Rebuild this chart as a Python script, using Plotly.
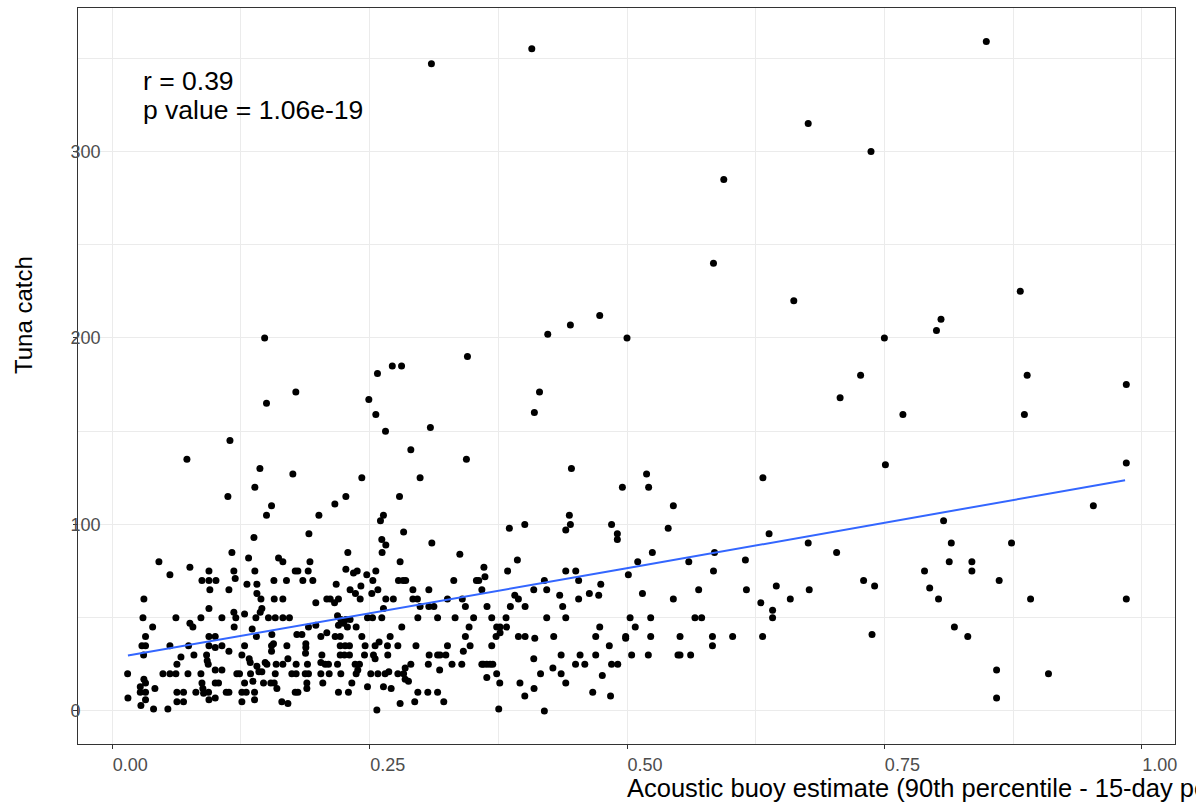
import plotly.graph_objects as go

# ---- data ----
acoustic = [
    0.849, 0.676, 0.737, 0.882, 0.662, 0.310, 0.4075, 0.594, 0.584,
    0.4735, 0.445, 0.423, 0.500, 0.345, 0.281, 0.272, 0.415, 0.410, 0.309, 0.290, 0.344, 0.299, 0.279,
    0.446, 0.4955, 0.519, 0.521, 0.545, 0.632, 0.638, 0.540, 0.485, 0.4906, 0.4906, 0.444, 0.445, 0.4405,
    0.4007, 0.3857, 0.283, 0.3104, 0.3376, 0.2796, 0.361, 0.362, 0.3935, 0.384, 0.3537, 0.356, 0.3317,
    0.2825, 0.285, 0.292, 0.3075, 0.359, 0.4405, 0.4502, 0.4197, 0.453, 0.4745, 0.5013, 0.5104, 0.5246,
    0.560, 0.585, 0.584, 0.615, 0.616, 0.645, 0.6586, 0.5696, 0.515, 0.545, 0.4094, 0.422, 0.4346, 0.4634,
    0.4725, 0.391, 0.3945, 0.453, 0.3256, 0.340, 0.292, 0.2964,
    0.805, 0.8006, 0.750, 0.7269, 0.707, 0.768, 0.8887, 0.886, 0.985, 0.751, 0.985, 0.953, 0.8075, 0.676,
    0.7036, 0.815, 0.8735, 0.813, 0.835, 0.835, 0.789, 0.8615, 0.7298, 0.7405, 0.794, 0.677, 0.8026, 0.892,
    0.985,
    0.738, 0.818, 0.831, 0.859, 0.859, 0.9094,
    0.630, 0.6414, 0.6414, 0.6317, 0.566, 0.5725, 0.583, 0.583, 0.6026, 0.5515, 0.5495, 0.5515, 0.5618,
    0.523, 0.523, 0.5207, 0.503, 0.508, 0.4987, 0.4987, 0.5045, 0.4828, 0.485, 0.491, 0.476, 0.484, 0.4667,
    0.4696, 0.4735, 0.4696, 0.4544, 0.450, 0.459, 0.436, 0.4288, 0.428, 0.436, 0.4405, 0.4375, 0.4405,
    0.422, 0.4094, 0.4104, 0.416, 0.4197, 0.4097, 0.4007, 0.396, 0.3754, 0.3764, 0.3734, 0.401, 0.3867,
    0.3825, 0.3734, 0.3767, 0.383, 0.3728, 0.3767, 0.3945, 0.401, 0.3686, 0.359, 0.3605, 0.3638, 0.367,
    0.3696, 0.3638, 0.3476, 0.341, 0.3395, 0.330, 0.318, 0.3256, 0.343, 0.3466, 0.351, 0.333, 0.316, 0.2968,
    0.3686, 0.299, 0.3075, 0.3124, 0.343, 0.364, 0.2812, 0.295, 0.3078, 0.316, 0.3184, 0.324, 0.307, 0.290,
    0.2845, 0.283, 0.2845, 0.2877, 0.2968, 0.3065, 0.316, 0.2938, 0.322, 0.2796,
    0.148, 0.2576, 0.1783, 0.2492, 0.1498, 0.256, 0.2654, 0.1143, 0.0725, 0.1434, 0.1754, 0.2424, 0.1385,
    0.1123, 0.2269, 0.2162, 0.1547, 0.1498, 0.2007, 0.2634, 0.2605, 0.1376, 0.191, 0.2618, 0.2657, 0.2621,
    0.1162, 0.2288, 0.0453, 0.1324, 0.1615, 0.1657, 0.192, 0.0754, 0.056, 0.0939, 0.0939, 0.1007, 0.0871,
    0.0948, 0.1181, 0.1194, 0.1133, 0.1308, 0.1385, 0.1405, 0.1405, 0.157, 0.1692, 0.1777, 0.1803, 0.1851,
    0.1948, 0.1903, 0.2175, 0.2269, 0.2343, 0.2379, 0.231, 0.2362, 0.2415, 0.2472, 0.2531, 0.256, 0.258,
    0.2521, 0.278, 0.2657, 0.273, 0.0307, 0.1444, 0.1573, 0.1657, 0.2084, 0.2117, 0.2197, 0.2408,
    0.0939, 0.0298, 0.0618, 0.0861, 0.1065, 0.1181, 0.120, 0.1285, 0.1395, 0.0754, 0.0783, 0.0392, 0.0323,
    0.1184, 0.1359, 0.0288, 0.0323, 0.0304, 0.056, 0.0741, 0.0939, 0.0939, 0.100, 0.100, 0.1065, 0.1133,
    0.1285, 0.0667, 0.0628, 0.0793, 0.0916, 0.0922, 0.0932, 0.1259, 0.133, 0.134, 0.1405, 0.0149, 0.0492,
    0.056, 0.0618, 0.0735, 0.0861, 0.100, 0.1065, 0.121, 0.1236, 0.1343, 0.0307, 0.0323, 0.0272, 0.0414,
    0.0272, 0.0323, 0.0323, 0.0278, 0.0152, 0.0401, 0.054, 0.0628, 0.0692, 0.0628, 0.0692, 0.0812, 0.0871,
    0.088, 0.0887, 0.0935, 0.0939, 0.100, 0.1032, 0.100, 0.1107, 0.1133, 0.1285, 0.1259, 0.1301, 0.1259,
    0.1366, 0.1382, 0.1382, 0.140,
    0.1977, 0.2159, 0.1453, 0.1437, 0.1517, 0.1583, 0.1657, 0.1721, 0.2188, 0.222, 0.2269, 0.231, 0.2479,
    0.2528, 0.2618, 0.2634, 0.1906, 0.1977, 0.2197, 0.2246, 0.2284, 0.2369, 0.155, 0.1566, 0.1547, 0.1547,
    0.1793, 0.1842, 0.2026, 0.2084, 0.2165, 0.2214, 0.2424, 0.2456, 0.2553, 0.2592, 0.2699, 0.2673, 0.2774,
    0.1696, 0.188, 0.188, 0.2214, 0.2262, 0.2304, 0.2036, 0.2214, 0.2255, 0.2304, 0.245, 0.2537, 0.2553,
    0.2676, 0.1706, 0.1877, 0.1485, 0.1502, 0.1592, 0.1657, 0.1786, 0.1896, 0.2026, 0.2068, 0.210, 0.2188,
    0.2359, 0.2401, 0.1424, 0.1453, 0.1583, 0.1744, 0.1786, 0.1874, 0.1906, 0.2026, 0.2107, 0.222, 0.2369,
    0.2385, 0.2511, 0.258, 0.265, 0.2686, 0.2774, 0.1469, 0.154, 0.1573, 0.1599, 0.1777, 0.1803, 0.189,
    0.189, 0.2045, 0.2197, 0.2294, 0.2327, 0.2479, 0.2634, 0.2709, 0.257, 0.1647, 0.1706,
]

catch = [
    359, 315, 300, 225, 220, 347, 355, 285, 240,
    212, 207, 202, 200, 190, 185, 185, 171, 160, 152, 140, 135, 125, 115,
    130, 120, 127, 120, 110, 125, 95, 98, 100, 95, 92, 105, 100, 97,
    100, 98, 96, 90, 84, 80, 77, 72, 81, 75, 70, 70, 70,
    70, 70, 65, 65, 65, 75, 75, 70, 70, 68, 73, 80, 85,
    80, 85, 75, 81, 65, 67, 60, 65, 63, 60, 65, 65, 62, 63,
    62, 62, 60, 60, 60, 60, 60, 60,
    210, 204, 200, 180, 168, 159, 180, 159, 175, 132, 133, 110, 102, 90,
    85, 90, 90, 80, 80, 75, 75, 70, 70, 67, 66, 65, 60, 60,
    60,
    41, 45, 40, 22, 7, 20,
    58, 54, 50, 40, 50, 50, 40, 35, 40, 40, 30, 30, 30,
    50, 40, 30, 50, 45, 40, 39, 30, 35, 25, 25, 19, 8, 10,
    40, 45, 30, 30, 25, 25, 30, 40, 23, 20, 15, 56, 50,
    50, 28, 39, 20, 0, 12, 8, 15, 1, 15, 20, 56, 56,
    50, 45, 45, 45, 40, 42, 40, 40, 35, 25, 25, 25, 25,
    25, 18, 35, 32, 25, 25, 22, 35, 40, 45, 50, 50, 50, 50,
    50, 56, 56, 56, 56, 56, 45, 35, 30, 30, 30, 30, 25, 25,
    23, 20, 17, 16, 10, 10, 10, 5, 5, 4,
    200, 181, 171, 167, 165, 159, 150, 145, 135, 130, 127, 125, 120,
    115, 115, 111, 110, 105, 105, 105, 102, 93, 95, 92, 89, 85,
    85, 85, 80, 82, 82, 80, 80, 77, 73, 75, 70, 70, 70,
    65, 75, 71, 65, 68, 75, 68, 63, 70, 70, 75, 75, 70,
    70, 75, 68, 76, 74, 75, 65, 63, 67, 73, 70, 75, 65,
    63, 70, 60, 60, 60, 60, 60, 60, 60, 60, 60, 60,
    55, 50, 50, 50, 50, 53, 50, 52, 50, 47, 45, 45, 40,
    45, 44, 35, 35, 30, 35, 35, 40, 35, 40, 34, 35, 32,
    35, 29, 25, 30, 30, 27, 25, 30, 28, 26, 24, 20, 20,
    20, 20, 20, 20, 22, 22, 20, 20, 20, 17, 15, 13, 12,
    10, 10, 6, 3, 7, 1, 1, 10, 10, 5, 5, 10, 15,
    12, 9.5, 10, 6, 15, 15, 7, 10, 10, 15, 10, 10, 5,
    16, 10, 6, 40,
    58, 58, 55, 53, 50, 50, 50, 50, 51, 49, 49, 49, 50,
    50, 50, 55, 45, 46, 46, 47, 45, 45, 41, 36, 35, 32,
    41, 41, 40, 42, 40, 40, 40, 35, 35, 37, 40, 35, 35,
    35, 36, 34, 35, 35, 35, 30, 30, 30, 30, 30, 30, 28,
    30, 28, 31, 26, 25, 25, 25, 25, 25, 26, 25, 25, 25,
    25, 25, 21, 21, 20, 20, 20, 20, 20, 20, 20, 20, 20,
    22, 20, 20, 20, 21, 20, 15, 15, 15, 12, 10, 10, 15,
    12, 15, 10, 10, 15, 13, 13, 12, 0.5, 5, 4,
]

# fitted regression line
fit_x = [0.0152, 0.4997, 0.9838]
fit_y = [29.7, 76.5, 123.7]

x_ticks = [0.0, 0.25, 0.5, 0.75, 1.0]
y_ticks = [0, 100, 200, 300]
stats_text = ["r = 0.39", "p value = 1.06e-19"]
stats_y = [338, 322]

FONT = "Liberation Sans, Arial, Helvetica, sans-serif"

fig = go.Figure()
fig.add_trace(go.Scatter(
    x=acoustic, y=catch, mode="markers",
    marker=dict(color="black", size=7, line=dict(width=0)),
    showlegend=False, hoverinfo="x+y",
))
fig.add_trace(go.Scatter(
    x=fit_x, y=fit_y, mode="lines",
    line=dict(color="#3366FF", width=2),
    showlegend=False, hoverinfo="skip",
))

for txt, yy in zip(stats_text, stats_y):
    fig.add_annotation(x=0.028, y=yy, xref="x", yref="y", text=txt, showarrow=False,
                       xanchor="left", yanchor="middle",
                       font=dict(family=FONT, size=26.5, color="black"))

# axis titles (left-justified from the panel centre, as in the original)
fig.add_annotation(x=0.4985, y=-0.0598, xref="paper", yref="paper",
                   text="Acoustic buoy estimate (90th percentile - 15-day period)",
                   showarrow=False, xanchor="left", yanchor="middle",
                   font=dict(family=FONT, size=25.5, color="black"))
fig.add_annotation(x=-0.0501, y=0.5, xref="paper", yref="paper", text="Tuna catch",
                   showarrow=False, textangle=-90, xanchor="center", yanchor="bottom",
                   font=dict(family=FONT, size=24, color="black"))

fig.update_layout(
    width=1196, height=803,
    margin=dict(l=78, r=21, t=8, b=59),
    paper_bgcolor="white", plot_bgcolor="white",
    font=dict(family=FONT),
)
fig.update_xaxes(
    range=[-0.0333, 1.0323], tickvals=x_ticks, tickformat=".2f",
    showgrid=True, gridcolor="#EBEBEB", gridwidth=1.1,
    minor=dict(showgrid=True, dtick=0.125, tick0=0, gridcolor="#EBEBEB", gridwidth=0.6),
    showline=True, linecolor="#333333", linewidth=1, mirror=True,
    ticks="outside", ticklen=4, tickcolor="#333333", tickwidth=1,
    ticklabelshift=18,
    tickfont=dict(family=FONT, size=18, color="#4D4D4D"),
    zeroline=False,
)
fig.update_yaxes(
    range=[-17.7, 376.9], tickvals=y_ticks,
    showgrid=True, gridcolor="#EBEBEB", gridwidth=1.1,
    minor=dict(showgrid=True, dtick=50, tick0=0, gridcolor="#EBEBEB", gridwidth=0.6),
    showline=True, linecolor="#333333", linewidth=1, mirror=True,
    ticks="outside", ticklen=4, tickcolor="#333333", tickwidth=1,
    ticklabelposition="inside", ticklabelstandoff=-7, ticklabeloverflow="allow",
    tickfont=dict(family=FONT, size=18, color="#4D4D4D"),
    zeroline=False,
)

fig.write_html("out.html")
